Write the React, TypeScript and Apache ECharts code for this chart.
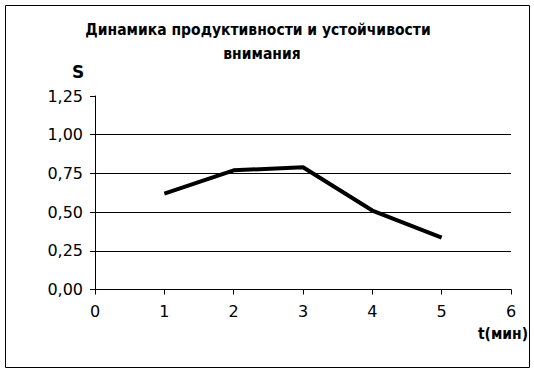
import React, { useEffect, useRef } from "react";
import * as echarts from "echarts";

const titleLines = ["Динамика продуктивности и устойчивости", "внимания"];
const yName = "S";
const xName = "t(мин)";
const xValues = [1, 2, 3, 4, 5];
const sValues = [0.62, 0.77, 0.79, 0.51, 0.335];
const yTicks = { min: 0, max: 1.25, interval: 0.25 };
const xTicks = { min: 0, max: 6, interval: 1 };

const fmt = (v: number) => v.toFixed(2).replace(".", ",");

export default function App() {
  const ref = useRef<HTMLDivElement>(null);
  useEffect(() => {
    if (!ref.current) return;
    const chart = echarts.init(ref.current, undefined, { renderer: "svg" });
    const font = "DejaVu Sans";
    const titleStyle = {
      fontFamily: "DejaVu Sans Condensed",
      fontWeight: "bold",
      fontSize: 15.5,
      fill: "#000",
      align: "center",
      verticalAlign: "middle",
    };
    chart.setOption({
      animation: false,
      backgroundColor: "#fff",
      grid: { left: 95, right: 23, top: 96, bottom: 83.5, containLabel: false },
      xAxis: {
        type: "value",
        min: xTicks.min,
        max: xTicks.max,
        interval: xTicks.interval,
        axisLine: { show: true, lineStyle: { color: "#000", width: 1 } },
        axisTick: { show: true, length: 5, lineStyle: { color: "#000" } },
        axisLabel: { color: "#000", fontFamily: font, fontSize: 16, margin: 14 },
        splitLine: { show: false },
      },
      yAxis: {
        type: "value",
        min: yTicks.min,
        max: yTicks.max,
        interval: yTicks.interval,
        axisLine: { show: true, lineStyle: { color: "#000", width: 1 } },
        axisTick: { show: true, length: 5, lineStyle: { color: "#000" } },
        axisLabel: {
          color: "#000",
          fontFamily: font,
          fontSize: 16,
          margin: 12,
          formatter: (v: number) => fmt(v),
        },
        splitLine: {
          show: true,
          lineStyle: {
            color: ["#000", "#000", "#000", "#000", "#000", "rgba(0,0,0,0)"],
            width: 1,
          },
        },
      },
      series: [
        {
          type: "line",
          data: xValues.map((x, i) => [x, sValues[i]]),
          showSymbol: false,
          symbol: "none",
          lineStyle: { color: "#000", width: 4 },
        },
      ],
      graphic: [
        {
          type: "rect",
          shape: { x: 5.5, y: 5.5, width: 524, height: 362 },
          style: { fill: "none", stroke: "#000", lineWidth: 1 },
          silent: true,
        },
        {
          type: "text",
          x: 258,
          y: 30,
          style: { ...titleStyle, text: titleLines[0] },
        },
        {
          type: "text",
          x: 262,
          y: 54,
          style: { ...titleStyle, text: titleLines[1] },
        },
        {
          type: "text",
          x: 78,
          y: 72,
          style: {
            text: yName,
            fontFamily: font,
            fontWeight: "bold",
            fontSize: 17,
            fill: "#000",
            align: "center",
            verticalAlign: "middle",
          },
        },
        {
          type: "text",
          x: 503,
          y: 334,
          style: {
            text: xName,
            fontFamily: "DejaVu Sans Condensed",
            fontWeight: "bold",
            fontSize: 15.5,
            fill: "#000",
            align: "center",
            verticalAlign: "middle",
          },
        },
      ],
    });
    return () => chart.dispose();
  }, []);
  return (
    <div
      ref={ref}
      style={{ position: "fixed", left: 0, top: 0, width: 534, height: 373 }}
    />
  );
}
